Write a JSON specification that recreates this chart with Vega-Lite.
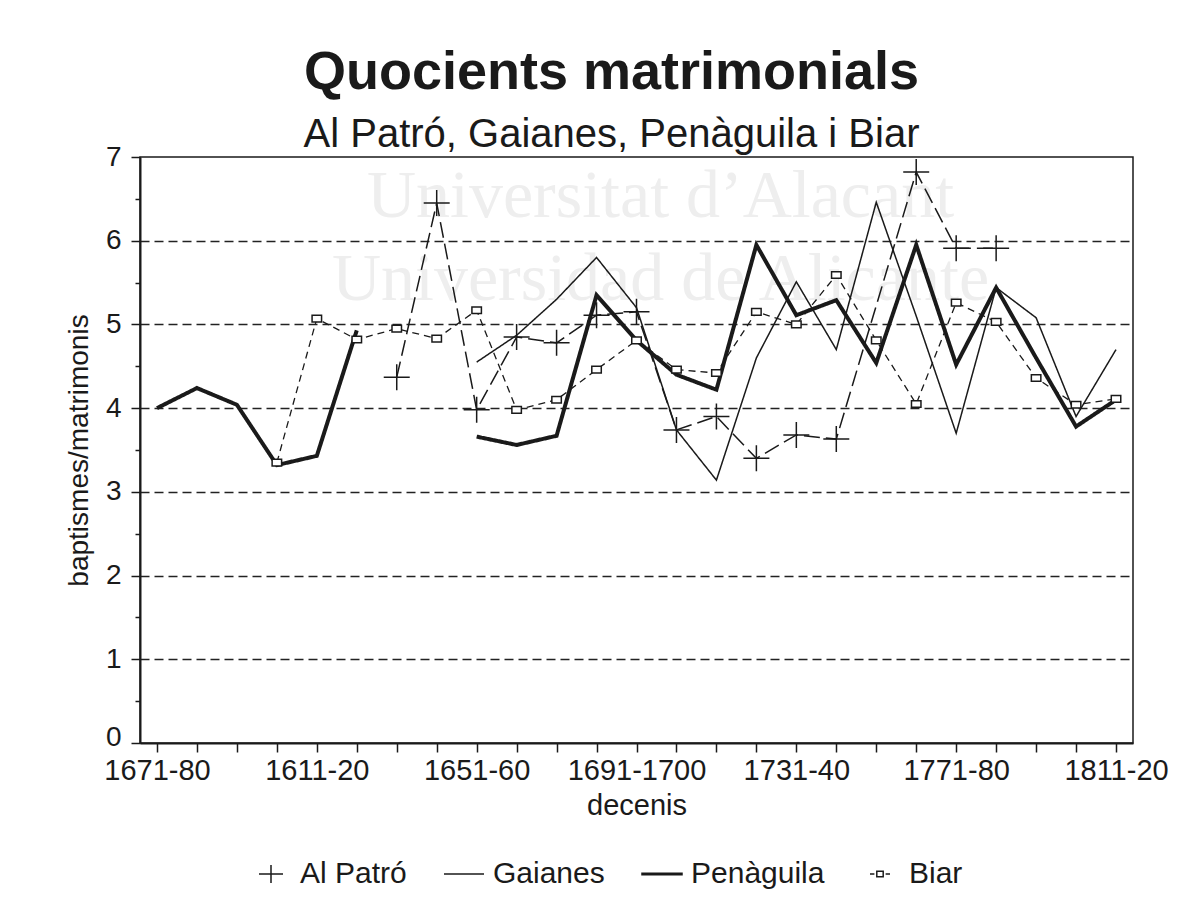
{
  "$schema": "https://vega.github.io/schema/vega-lite/v6.json",
  "width": 993,
  "height": 586,
  "autosize": "none",
  "padding": {"left": 140, "top": 157, "right": 70, "bottom": 169},
  "background": "white",
  "title": {
    "text": "Quocients matrimonials",
    "subtitle": "Al Patró, Gaianes, Penàguila i Biar",
    "font": "Liberation Sans, Arial, sans-serif",
    "fontSize": 54,
    "fontWeight": "bold",
    "color": "#1a1a1a",
    "subtitleFont": "Liberation Sans, Arial, sans-serif",
    "subtitleFontSize": 40,
    "subtitleColor": "#1a1a1a",
    "subtitlePadding": 15,
    "anchor": "middle",
    "offset": -12,
    "dx": -25
  },
  "data": {
    "values": [
      {"decada": "1571-80", "serie": "Penàguila", "valor": 4.0},
      {"decada": "1581-90", "serie": "Penàguila", "valor": 4.24},
      {"decada": "1591-1600", "serie": "Penàguila", "valor": 4.04},
      {"decada": "1601-10", "serie": "Penàguila", "valor": 3.32},
      {"decada": "1611-20", "serie": "Penàguila", "valor": 3.43},
      {"decada": "1621-30", "serie": "Penàguila", "valor": 4.93},
      {"decada": "1631-40", "serie": "Penàguila", "valor": null},
      {"decada": "1641-50", "serie": "Penàguila", "valor": null},
      {"decada": "1651-60", "serie": "Penàguila", "valor": 3.66},
      {"decada": "1661-70", "serie": "Penàguila", "valor": 3.56},
      {"decada": "1671-80", "serie": "Penàguila", "valor": 3.67},
      {"decada": "1681-90", "serie": "Penàguila", "valor": 5.35},
      {"decada": "1691-1700", "serie": "Penàguila", "valor": 4.81},
      {"decada": "1701-10", "serie": "Penàguila", "valor": 4.4},
      {"decada": "1711-20", "serie": "Penàguila", "valor": 4.22},
      {"decada": "1721-30", "serie": "Penàguila", "valor": 5.95},
      {"decada": "1731-40", "serie": "Penàguila", "valor": 5.11},
      {"decada": "1741-50", "serie": "Penàguila", "valor": 5.29},
      {"decada": "1751-60", "serie": "Penàguila", "valor": 4.54},
      {"decada": "1761-70", "serie": "Penàguila", "valor": 5.95},
      {"decada": "1771-80", "serie": "Penàguila", "valor": 4.52},
      {"decada": "1781-90", "serie": "Penàguila", "valor": 5.44},
      {"decada": "1791-1800", "serie": "Penàguila", "valor": 4.6},
      {"decada": "1801-10", "serie": "Penàguila", "valor": 3.78},
      {"decada": "1811-20", "serie": "Penàguila", "valor": 4.1},

      {"decada": "1651-60", "serie": "Gaianes", "valor": 4.55},
      {"decada": "1661-70", "serie": "Gaianes", "valor": 4.87},
      {"decada": "1671-80", "serie": "Gaianes", "valor": 5.3},
      {"decada": "1681-90", "serie": "Gaianes", "valor": 5.8},
      {"decada": "1691-1700", "serie": "Gaianes", "valor": 5.2},
      {"decada": "1701-10", "serie": "Gaianes", "valor": 3.74},
      {"decada": "1711-20", "serie": "Gaianes", "valor": 3.14},
      {"decada": "1721-30", "serie": "Gaianes", "valor": 4.6},
      {"decada": "1731-40", "serie": "Gaianes", "valor": 5.51},
      {"decada": "1741-50", "serie": "Gaianes", "valor": 4.7},
      {"decada": "1751-60", "serie": "Gaianes", "valor": 6.46},
      {"decada": "1761-70", "serie": "Gaianes", "valor": 5.1},
      {"decada": "1771-80", "serie": "Gaianes", "valor": 3.7},
      {"decada": "1781-90", "serie": "Gaianes", "valor": 5.44},
      {"decada": "1791-1800", "serie": "Gaianes", "valor": 5.08},
      {"decada": "1801-10", "serie": "Gaianes", "valor": 3.9},
      {"decada": "1811-20", "serie": "Gaianes", "valor": 4.7},

      {"decada": "1631-40", "serie": "Al Patró", "valor": 4.37},
      {"decada": "1641-50", "serie": "Al Patró", "valor": 6.45},
      {"decada": "1651-60", "serie": "Al Patró", "valor": 3.98},
      {"decada": "1661-70", "serie": "Al Patró", "valor": 4.85},
      {"decada": "1671-80", "serie": "Al Patró", "valor": 4.78},
      {"decada": "1681-90", "serie": "Al Patró", "valor": 5.11},
      {"decada": "1691-1700", "serie": "Al Patró", "valor": 5.15},
      {"decada": "1701-10", "serie": "Al Patró", "valor": 3.74},
      {"decada": "1711-20", "serie": "Al Patró", "valor": 3.9},
      {"decada": "1721-30", "serie": "Al Patró", "valor": 3.4},
      {"decada": "1731-40", "serie": "Al Patró", "valor": 3.68},
      {"decada": "1741-50", "serie": "Al Patró", "valor": 3.63},
      {"decada": "1761-70", "serie": "Al Patró", "valor": 6.82},
      {"decada": "1771-80", "serie": "Al Patró", "valor": 5.91},
      {"decada": "1781-90", "serie": "Al Patró", "valor": 5.91},

      {"decada": "1601-10", "serie": "Biar", "valor": 3.35},
      {"decada": "1611-20", "serie": "Biar", "valor": 5.07},
      {"decada": "1621-30", "serie": "Biar", "valor": 4.82},
      {"decada": "1631-40", "serie": "Biar", "valor": 4.95},
      {"decada": "1641-50", "serie": "Biar", "valor": 4.83},
      {"decada": "1651-60", "serie": "Biar", "valor": 5.17},
      {"decada": "1661-70", "serie": "Biar", "valor": 3.98},
      {"decada": "1671-80", "serie": "Biar", "valor": 4.1},
      {"decada": "1681-90", "serie": "Biar", "valor": 4.46},
      {"decada": "1691-1700", "serie": "Biar", "valor": 4.81},
      {"decada": "1701-10", "serie": "Biar", "valor": 4.46},
      {"decada": "1711-20", "serie": "Biar", "valor": 4.42},
      {"decada": "1721-30", "serie": "Biar", "valor": 5.15},
      {"decada": "1731-40", "serie": "Biar", "valor": 5.0},
      {"decada": "1741-50", "serie": "Biar", "valor": 5.59},
      {"decada": "1751-60", "serie": "Biar", "valor": 4.81},
      {"decada": "1761-70", "serie": "Biar", "valor": 4.05},
      {"decada": "1771-80", "serie": "Biar", "valor": 5.26},
      {"decada": "1781-90", "serie": "Biar", "valor": 5.03},
      {"decada": "1791-1800", "serie": "Biar", "valor": 4.36},
      {"decada": "1801-10", "serie": "Biar", "valor": 4.04},
      {"decada": "1811-20", "serie": "Biar", "valor": 4.11}
    ]
  },
  "encoding": {
    "x": {
      "field": "decada",
      "type": "ordinal",
      "sort": ["1571-80","1581-90","1591-1600","1601-10","1611-20","1621-30","1631-40","1641-50","1651-60","1661-70","1671-80","1681-90","1691-1700","1701-10","1711-20","1721-30","1731-40","1741-50","1751-60","1761-70","1771-80","1781-90","1791-1800","1801-10","1811-20"],
      "scale": {"type": "point", "padding": 0.425},
      "axis": {
        "title": "decenis",
        "labelAngle": 0,
        "labelOverlap": false,
        "labelExpr": "indexof(['1571-80','1611-20','1651-60','1691-1700','1731-40','1771-80','1811-20'], datum.value) >= 0 ? (datum.value === '1571-80' ? '1671-80' : datum.value) : ''",
        "labelFontSize": 29,
        "labelPadding": 4,
        "titleFontSize": 29,
        "titleFontWeight": "normal",
        "titlePadding": 6,
        "tickSize": 9,
        "tickWidth": 1.5,
        "domainWidth": 2,
        "grid": false
      }
    },
    "y": {
      "field": "valor",
      "type": "quantitative",
      "scale": {"domain": [0, 7], "nice": false, "zero": true},
      "axis": {
        "title": "baptismes/matrimonis",
        "values": [0, 0.5, 1, 1.5, 2, 2.5, 3, 3.5, 4, 4.5, 5, 5.5, 6, 6.5, 7],
        "labelExpr": "datum.value % 1 === 0 ? format(datum.value, 'd') : ''",
        "labelFontSize": 28,
        "labelPadding": 10,
        "labelOffset": {"condition": {"test": "datum.value === 0", "value": -6}, "value": 0},
        "titleFontSize": 28,
        "titleFontWeight": "normal",
        "titlePadding": 12,
        "tickSize": {"condition": {"test": "datum.value % 1 !== 0", "value": 5}, "value": 9},
        "tickWidth": 1.5,
        "domainWidth": 2,
        "grid": true,
        "gridDash": [9, 5],
        "gridColor": "#222222",
        "gridWidth": 1.4,
        "gridOpacity": {"condition": {"test": "datum.value % 1 !== 0 || datum.value === 0 || datum.value === 7", "value": 0}, "value": 1}
      }
    }
  },
  "layer": [
    {
      "data": {"values": [{"marca": "Universitat d’Alacant", "decada": "1691-1700", "valor": 6.28}, {"marca": "Universidad de Alicante", "decada": "1691-1700", "valor": 5.29}]},
      "mark": {"type": "text", "font": "Liberation Serif, DejaVu Serif, serif", "fontSize": 68, "color": "#eeeeee", "baseline": "alphabetic", "align": "center", "dx": 24},
      "encoding": {"text": {"field": "marca", "type": "nominal"}}
    },
    {
      "mark": {"type": "line", "color": "#1a1a1a", "strokeJoin": "miter", "strokeCap": "butt"},
      "encoding": {
        "detail": {"field": "serie"},
        "strokeWidth": {"condition": [{"test": "datum.serie === 'Penàguila'", "value": 4}, {"test": "datum.serie === 'Biar'", "value": 1.3}], "value": 1.5},
        "strokeDash": {"condition": [{"test": "datum.serie === 'Al Patró'", "value": [16, 6]}, {"test": "datum.serie === 'Biar'", "value": [7, 5]}], "value": [1, 0]}
      }
    },
    {
      "transform": [{"filter": "datum.serie === 'Al Patró' || datum.serie === 'Biar'"}],
      "mark": {"type": "point", "filled": false, "color": "#1a1a1a", "strokeWidth": 1.5, "opacity": 1},
      "encoding": {
        "shape": {"condition": {"test": "datum.serie === 'Al Patró'", "value": "M-1,0H1M0,-1V1"}, "value": "M-1,-0.7H1V0.7H-1Z"},
        "size": {"condition": {"test": "datum.serie === 'Al Patró'", "value": 676}, "value": 90},
        "fill": {"condition": {"test": "datum.serie === 'Biar'", "value": "white"}, "value": "transparent"}
      }
    },
    {
      "transform": [{"filter": "false"}],
      "mark": {"type": "point", "filled": false, "color": "#1a1a1a", "strokeWidth": 1.5},
      "encoding": {
        "shape": {
          "field": "serie",
          "type": "nominal",
          "scale": {
            "domain": ["Al Patró", "Gaianes", "Penàguila", "Biar"],
            "range": ["M-0.6,0H0.6M0,-0.45V0.45", "M-1,0H1", "M-1,-0.04H1V0.04H-1Z", "M-0.5,0H-0.28M-0.16,-0.14H0.16V0.14H-0.16ZM0.28,0H0.5"]
          },
          "legend": {
            "title": null,
            "orient": "none",
            "legendX": 110,
            "legendY": 696,
            "direction": "horizontal",
            "symbolSize": 1600,
            "symbolStrokeColor": "#1a1a1a",
            "symbolStrokeWidth": 1.5,
            "symbolOpacity": 1,
            "labelFont": "Liberation Sans, Arial, sans-serif",
            "labelFontSize": 30,
            "labelColor": "#1a1a1a",
            "labelOffset": 8,
            "columnPadding": 34,
            "padding": 0
          }
        }
      }
    }
  ],
  "config": {
    "view": {"stroke": "#1a1a1a", "strokeWidth": 1.5},
    "axis": {
      "domainColor": "#1a1a1a",
      "tickColor": "#1a1a1a",
      "labelColor": "#1a1a1a",
      "titleColor": "#1a1a1a",
      "labelFont": "Liberation Sans, Arial, sans-serif",
      "titleFont": "Liberation Sans, Arial, sans-serif"
    }
  }
}
